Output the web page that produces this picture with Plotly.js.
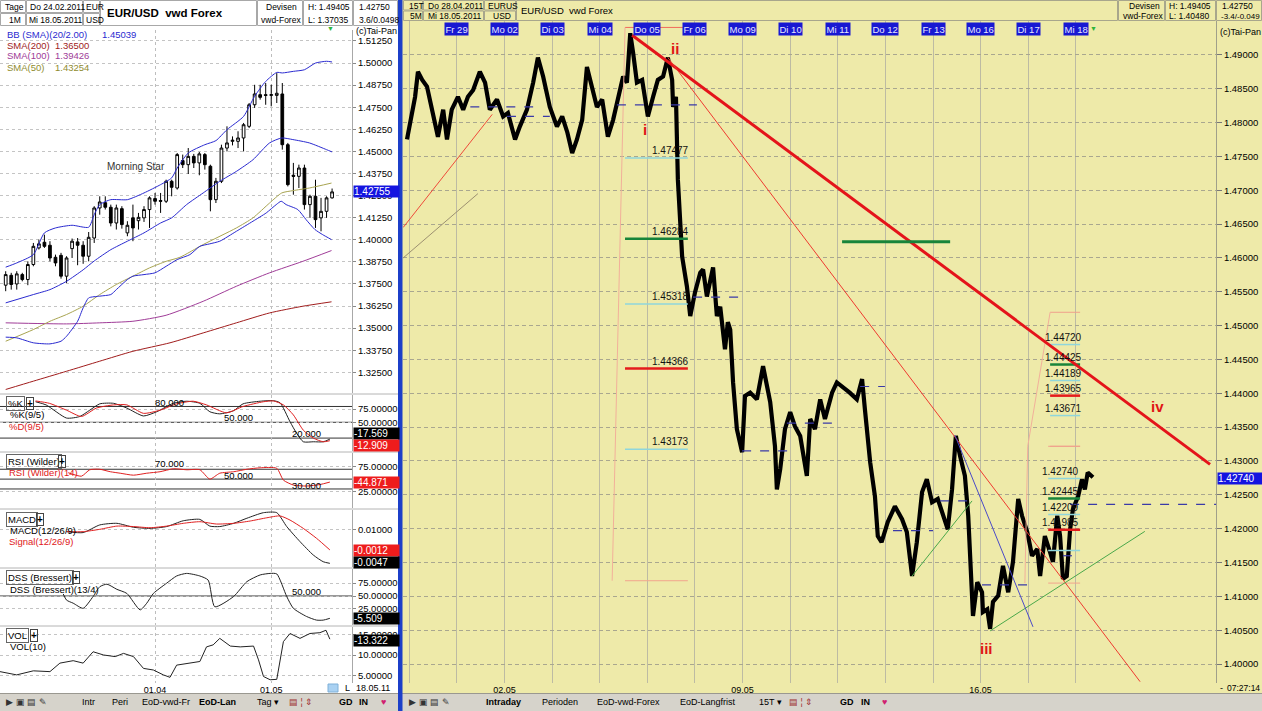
<!DOCTYPE html>
<html><head><meta charset="utf-8">
<script src="https://cdn.plot.ly/plotly-3.0.1.min.js"></script>
<style>html,body{margin:0;padding:0;background:#fff;overflow:hidden}#chart{width:1262px;height:711px}</style>
</head><body><div id="chart"></div>
<script>
// ---------------- DATA ----------------
// Daily candles 24.02.2011 - 18.05.2011 (index = trading day)
const dailyDates = ['24.02','25.02','28.02','01.03','02.03','03.03','04.03','07.03','08.03','09.03','10.03','11.03','14.03','15.03','16.03','17.03','18.03','21.03','22.03','23.03','24.03','25.03','28.03','29.03','30.03','31.03','01.04','04.04','05.04','06.04','07.04','08.04','11.04','12.04','13.04','14.04','15.04','18.04','19.04','20.04','21.04','22.04','25.04','26.04','27.04','28.04','29.04','02.05','03.05','04.05','05.05','06.05','09.05','10.05','11.05','12.05','13.05','16.05','17.05','18.05'];
const dOpen  = [1.3743,1.3799,1.3750,1.3803,1.3775,1.3860,1.3954,1.3986,1.3969,1.3901,1.3912,1.3794,1.3950,1.3988,1.3969,1.3907,1.4010,1.4180,1.4210,1.4184,1.4095,1.4176,1.4039,1.4124,1.4108,1.4124,1.4171,1.4233,1.4222,1.4218,1.4331,1.4293,1.4448,1.4425,1.4472,1.4435,1.4482,1.4416,1.4227,1.4331,1.4519,1.4557,1.4557,1.4576,1.4642,1.4764,1.4821,1.4821,1.4817,1.4817,1.4825,1.4538,1.4365,1.4359,1.4406,1.4199,1.4246,1.4124,1.4161,1.4237];
const dHigh  = [1.3822,1.3813,1.3822,1.3813,1.3878,1.3982,1.4001,1.4029,1.3992,1.3916,1.3926,1.3907,1.4007,1.4010,1.3992,1.4044,1.4190,1.4246,1.4246,1.4199,1.4199,1.4190,1.4105,1.4199,1.4152,1.4190,1.4246,1.4265,1.4265,1.4340,1.4340,1.4491,1.4482,1.4519,1.4486,1.4497,1.4491,1.4425,1.4350,1.4538,1.4642,1.4585,1.4614,1.4661,1.4774,1.4877,1.4877,1.4887,1.4877,1.4943,1.4887,1.4548,1.4435,1.4425,1.4425,1.4255,1.4340,1.4237,1.4246,1.4290];
const dLow   = [1.3709,1.3718,1.3718,1.3765,1.3743,1.3850,1.3945,1.3954,1.3878,1.3850,1.3780,1.3756,1.3897,1.3856,1.3864,1.3878,1.3982,1.4142,1.4171,1.4076,1.4058,1.4063,1.4020,1.3992,1.4058,1.4101,1.4067,1.4199,1.4152,1.4208,1.4246,1.4284,1.4406,1.4372,1.4406,1.4365,1.4397,1.4161,1.4208,1.4321,1.4500,1.4534,1.4519,1.4500,1.4632,1.4746,1.4793,1.4764,1.4755,1.4774,1.4510,1.4302,1.4255,1.4293,1.4171,1.4124,1.4067,1.4048,1.4124,1.4233];
const dClose = [1.3803,1.3747,1.3807,1.3775,1.3860,1.3963,1.3977,1.3963,1.3897,1.3869,1.3794,1.3897,1.3992,1.3969,1.3907,1.4014,1.4180,1.4214,1.4184,1.4095,1.4180,1.4086,1.4082,1.4067,1.4127,1.4171,1.4237,1.4218,1.4218,1.4331,1.4297,1.4482,1.4425,1.4472,1.4435,1.4486,1.4425,1.4227,1.4331,1.4519,1.4548,1.4563,1.4576,1.4651,1.4764,1.4825,1.4806,1.4817,1.4821,1.4829,1.4538,1.4312,1.4359,1.4406,1.4199,1.4246,1.4114,1.4161,1.4237,1.4271];
const monthTickDates = ['01.04','02.05'];
const monthTickLabels = ['01.04','01.05'];

// Overlays (x = trading-day index)
const bbUpIdx = [0,2,5,7,9,12,15,16,17,19,22,25,28,30,31,33,36,38,40,43,45,47,49,50,52,54,56,58,59];
const bbUpVal = [1.3845,1.3869,1.3916,1.4039,1.4067,1.4082,1.4071,1.4142,1.4199,1.4227,1.4227,1.4265,1.4312,1.4350,1.4406,1.4491,1.4538,1.4561,1.4623,1.4698,1.4812,1.4896,1.4947,1.4944,1.4953,1.4962,1.5000,1.5010,1.5006];
const bbMidIdx = [0,5,8,11,14,16,19,22,25,28,30,32.7,35.7,38.7,41.7,44.7,47.7,49.9,51.9,54.9,58,59];
const bbMidVal = [1.3643,1.3690,1.3718,1.3765,1.3830,1.3880,1.3944,1.3992,1.4039,1.4095,1.4124,1.4199,1.4265,1.4331,1.4387,1.4453,1.4548,1.4576,1.4567,1.4548,1.4510,1.4497];
const bbLowIdx = [0,2,5,8,10,11,13,14,15,17,19,20,22,23,25,27,29,31,33.3,35.1,36.9,38.7,41.7,44.7,47.1,48.9,49.8,50.7,52.8,54.3,55.9,57.3,58.9];
const bbLowVal = [1.3449,1.3445,1.3417,1.3411,1.3426,1.3454,1.3539,1.3615,1.3671,1.3681,1.3690,1.3718,1.3775,1.3794,1.3803,1.3813,1.3850,1.3888,1.3916,1.3963,1.3977,1.3992,1.4048,1.4105,1.4152,1.4199,1.4218,1.4199,1.4171,1.4114,1.4058,1.4029,1.4001];
const sma50Idx = [0,5,8,11,14,17,20,23,26,29,31.5,35.7,41.7,44.7,47.7,49.9,51.9,54.9,58.9];
const sma50Val = [1.3426,1.3492,1.3539,1.3577,1.3624,1.3690,1.3747,1.3794,1.3841,1.3878,1.3901,1.3973,1.4067,1.4124,1.4208,1.4265,1.4278,1.4293,1.4321];
const sma100Idx = [0,11,17,23,29,35.7,41.7,47.7,53.7,58.9];
const sma100Val = [1.3530,1.3524,1.3530,1.3539,1.3573,1.3652,1.3737,1.3813,1.3878,1.3939];
const sma200Idx = [0,5,11,17,23,29.7,35.7,41.7,47.7,53.7,58.9];
const sma200Val = [1.3153,1.3200,1.3256,1.3313,1.3369,1.3417,1.3473,1.3530,1.3586,1.3624,1.3649];

// Indicators
const stochKIdx = [5.4,7.3,11,13.4,15.2,17,19.5,21.9,24.9,27.3,30.3,32.7,35.1,36.9,38.7,41.2,42.9,46,48.4,49.6,51.4,52.6,53.8,55.6,57.4,58.6];
const stochKVal = [89,83,58,61,73,85,86,77,62,70,86,90,86,70,66,72,85,90,91,87,51,29,13,13,13,18];
const stochDIdx = [5.4,7.9,11,13.7,16.4,19.5,21.9,24.9,27.9,30.9,33.9,36.3,39.9,42.9,46.6,48.4,50.2,52,53.8,55.6,57.4,58.6];
const stochDVal = [90.5,86,73,61,77,83,83,67,73,85,90,83,68,80,89,90.5,83,64,35,20,13,15];
const stochLevels = [80,50,20];
const rsiIdx = [11.3,13.7,15.2,17,18.9,20.7,23.1,25.5,27.9,30.3,32.7,35.1,36.9,38.7,41.2,43.6,46,49,50.2,52,54.4,56.8,58.6];
const rsiVal = [63,56,69,70,65,62,58,62,65,71,69,69,50,62,65,70,73,72,48,38,36,39,44];
const rsiLevels = [70,50,30];
const macdIdx = [11,14,17,20.1,23.1,26.1,29.1,32.1,35.1,36.9,38.7,41.2,43.6,46.6,49,50.8,53.2,55.6,57.4,58.6];
const macdVal = [0.0090,0.0086,0.0119,0.0126,0.0109,0.0104,0.0112,0.0137,0.0143,0.0114,0.0112,0.0126,0.0148,0.0172,0.0172,0.0112,0.0047,-0.0011,-0.0040,-0.0047];
const signalIdx = [11,14,17,20.1,23.1,26.1,29.1,32.1,35.1,38.1,41.2,44.2,47.2,49.6,51.4,53.8,56.2,58.6];
const signalVal = [0.0090,0.0090,0.0100,0.0114,0.0112,0.0107,0.0114,0.0126,0.0133,0.0123,0.0126,0.0136,0.0150,0.0158,0.0140,0.0104,0.0061,0.0011];
const dssIdx = [10.4,11,12.2,14,15.8,17,18.3,20.1,21.9,24.3,25.5,26.7,29.1,30.9,32.7,35.1,36.6,37.8,41.2,43.6,46,47.8,49,50.8,52,54.4,56.2,57.4,58.6];
const dssVal = [54,42,36,26,49,68,73,63,55,23,36,55,75,89,94,89,81,29,49,78,91,94,93,49,26,10,3,3,6.5];
const dssLevels = [50];
const volIdx = [-1.03,1.98,4.99,8.0,9.8,12.2,14,15.8,17.7,19.8,21.3,23.1,24.9,26.7,28.5,29.7,30.9,33.3,35.1,36.3,37.5,38.7,40.6,42.4,44.8,45.7,46.6,47.8,49,50.2,51.4,53.2,55,56.8,57.9,58.6];
const volVal = [5.9,5.1,6.1,5.9,8.0,8.6,8.0,10.8,10,9.6,10.4,9.6,6.7,6.3,5.1,4.5,7.5,8.0,8.4,12.0,12.5,14.1,12.2,12.0,12.2,8.8,4.7,3.9,4.0,13.3,15.3,14.1,15.3,15.5,16.1,13.9];

// Intraday 15T (x = trading day since 28.04, 0 = start of Do 28)
const dayNames = ['Do 28','Fr 29','Mo 02','Di 03','Mi 04','Do 05','Fr 06','Mo 09','Di 10','Mi 11','Do 12','Fr 13','Mo 16','Di 17','Mi 18'];
const dayDates = ['28.04','29.04','02.05','03.05','04.05','05.05','06.05','09.05','10.05','11.05','12.05','13.05','16.05','17.05','18.05'];
const intraDay = [-0.05,0.12,0.18,0.27,0.37,0.50,0.60,0.71,0.79,0.89,1.02,1.13,1.23,1.34,1.48,1.59,1.69,1.84,1.97,2.07,2.22,2.32,2.47,2.60,2.70,2.81,2.95,3.10,3.21,3.32,3.42,3.52,3.63,3.73,3.84,3.94,4.05,4.17,4.28,4.38,4.49,4.57,4.64,4.70,4.78,4.89,4.99,5.01,5.12,5.22,5.33,5.43,5.52,5.54,5.60,5.62,5.64,5.73,5.83,5.90,6.00,6.11,6.17,6.25,6.38,6.46,6.53,6.63,6.69,6.74,6.80,6.88,6.99,7.05,7.16,7.30,7.43,7.58,7.68,7.72,7.79,7.89,8.00,8.10,8.21,8.35,8.42,8.52,8.63,8.73,8.88,8.98,9.10,9.25,9.40,9.51,9.57,9.68,9.78,9.84,9.92,10.05,10.20,10.35,10.45,10.56,10.66,10.77,10.87,10.98,11.10,11.21,11.31,11.40,11.48,11.57,11.67,11.74,11.82,11.84,11.93,12.03,12.05,12.14,12.20,12.26,12.37,12.47,12.58,12.68,12.76,12.79,12.87,12.98,13.08,13.19,13.25,13.35,13.46,13.52,13.61,13.67,13.73,13.81,13.88,13.94,14.05,14.13,14.19,14.25,14.36];
const intraPrice = [1.4775,1.4838,1.4875,1.4863,1.4853,1.4814,1.4779,1.4819,1.4775,1.4819,1.4838,1.4819,1.4838,1.4848,1.4875,1.4859,1.4819,1.4834,1.4809,1.4814,1.4775,1.4794,1.4819,1.4859,1.4896,1.4868,1.4823,1.4794,1.4809,1.4785,1.4755,1.4775,1.4804,1.4882,1.4848,1.4823,1.4834,1.4779,1.4804,1.4834,1.4868,1.4859,1.4932,1.4903,1.4859,1.4863,1.4823,1.4809,1.4838,1.4863,1.4868,1.4896,1.4863,1.4823,1.4838,1.4789,1.4716,1.4602,1.4558,1.4514,1.4549,1.4578,1.4583,1.4543,1.4586,1.4514,1.4528,1.4465,1.4505,1.4494,1.4416,1.4347,1.4313,1.4396,1.4401,1.4391,1.4440,1.4387,1.4322,1.4258,1.4288,1.4347,1.4372,1.4351,1.4337,1.4278,1.4362,1.4347,1.4391,1.4362,1.4401,1.4416,1.4410,1.4401,1.4391,1.4421,1.4376,1.4298,1.4248,1.4189,1.4180,1.4210,1.4233,1.4214,1.4195,1.4130,1.4180,1.4254,1.4273,1.4239,1.4244,1.4219,1.4199,1.4258,1.4337,1.4307,1.4278,1.4219,1.4121,1.4071,1.4121,1.4106,1.4077,1.4081,1.4052,1.4092,1.4101,1.4145,1.4106,1.4151,1.4219,1.4244,1.4219,1.4195,1.4160,1.4170,1.4130,1.4189,1.4165,1.4151,1.4219,1.4189,1.4126,1.4130,1.4199,1.4229,1.4248,1.4273,1.4258,1.4283,1.4276];

// Fibonacci sets (high, low, levels, day span, label day)
const fibHigh = [1.49405,1.45197,1.43217];
const fibLow  = [1.41231,1.43217,1.41196];
const fibLevels = [[1.47477,1.46284,1.45318,1.44366,1.43173],[1.44720,1.44425,1.44189,1.43965,1.43671],[1.42740,1.42445,1.42209,1.41985,1.41676]];
const fibShowLabel = [[1,1,1,1,1],[1,1,1,1,1],[1,1,1,1,0]];
const fibDayStart = [4.53,13.46,13.42];
const fibDayEnd   = [5.85,14.09,14.09];
const fibDiagHighDay = [4.53,13.46,12.99];
const fibDiagLowDay  = [4.26,12.99,12.93];
const fibLabelDay = [5.05,13.31,13.25];

// Trend lines (day, price)
const trendX0 = [4.68,5.43,-0.13,-0.13,10.56,12.20,11.46,9.09];
const trendY0 = [1.4929,1.4896,1.4645,1.4600,1.4130,1.4049,1.4338,1.4624];
const trendX1 = [16.82,15.35,1.74,1.44,11.82,15.45,13.10,11.36];
const trendY1 = [1.4295,1.3974,1.4812,1.4695,1.4241,1.4196,1.4055,1.4624];
// Dashed pivot marks
const pivotStart = [1.28,2.05,4.36,5.96,6.99,7.93,9.47,10.16,11.15,12.03,13.73,13.88];
const pivotEnd   = [2.60,2.95,6.04,6.95,7.95,8.98,9.99,11.00,11.84,13.00,14.03,16.95];
const pivotPrice = [1.4823,1.4809,1.4826,1.4542,1.4315,1.4356,1.4410,1.4197,1.4241,1.4117,1.4160,1.4236];
// Wave labels
const waveText = ['i','ii','iii','iv'];
const waveDay = [4.95,5.58,12.12,15.71];
const wavePrice = [1.4789,1.4910,1.4023,1.4381];

// ---------------- STYLE / LAYOUT ----------------
const W = 1262, H = 711;
const F = '"Liberation Sans", Arial, sans-serif';
const X = p => p / W, Y = p => 1 - p / H;
const YEL = '#eeeaa9';

const tr = [];
const cdIdx = dailyDates.map((d, i) => i);
tr.push({type:'candlestick', x:cdIdx, open:dOpen, high:dHigh, low:dLow, close:dClose, xaxis:'x', yaxis:'y',
  increasing:{line:{color:'#000', width:1}, fillcolor:'#ffffff'},
  decreasing:{line:{color:'#000', width:1}, fillcolor:'#000000'}, whiskerwidth:0, hoverinfo:'skip'});
function ln(x, y, yax, color, w, xa, shape) {
  tr.push({type:'scatter', mode:'lines', x, y, xaxis:xa || 'x', yaxis:yax, line:{color, width:w, shape:shape || 'spline', smoothing:0.6}, hoverinfo:'skip'});
}
ln(sma200Idx, sma200Val, 'y', '#a01c1c', 1);
ln(sma100Idx, sma100Val, 'y', '#a03c98', 1);
ln(sma50Idx, sma50Val, 'y', '#a8a450', 1);
ln(bbLowIdx, bbLowVal, 'y', '#2a2ad0', 1);
ln(bbMidIdx, bbMidVal, 'y', '#2a2ad0', 1);
ln(bbUpIdx, bbUpVal, 'y', '#2a2ad0', 1);
ln(stochKIdx, stochKVal, 'y2', '#222', 1);
ln(stochDIdx, stochDVal, 'y2', '#e02020', 1);
ln(rsiIdx, rsiVal, 'y3', '#e02020', 1);
ln(macdIdx, macdVal, 'y4', '#222', 1);
ln(signalIdx, signalVal, 'y4', '#e02020', 1);
ln(dssIdx, dssVal, 'y5', '#222', 1);
ln(volIdx, volVal, 'y6', '#222', 1, 'x', 'linear');
tr.push({type:'scatter', mode:'lines', x:intraDay, y:intraPrice, xaxis:'x2', yaxis:'y7', line:{color:'#000', width:4.2, shape:'linear'}, hoverinfo:'skip'});

// axes
const leftTicks = [];
for (let v = 1.325; v < 1.515; v += 0.0125) leftTicks.push(+v.toFixed(5));
const rightTicks = [];
for (let v = 1.400; v < 1.4925; v += 0.005) rightTicks.push(+v.toFixed(3));
const monthTickVals = monthTickDates.map(d => dailyDates.indexOf(d) + 1);
const tf = {family:F, size:9.5, color:'#000'};
function indAxis(top, bot, range, vals, dec) {
  return {domain:[Y(bot), Y(top)], range, anchor:'x', side:'right', tickvals:vals,
    ticktext:vals.map(v => v.toFixed(dec)), showgrid:true, gridcolor:'#c4c4c4', griddash:'dot',
    ticks:'outside', ticklen:3, tickcolor:'#888', showline:true, linecolor:'#a8a8a8', zeroline:false, tickfont:tf, fixedrange:true};
}
const layout = {
  width:W, height:H, margin:{l:0, r:0, t:0, b:0}, paper_bgcolor:'#ffffff', plot_bgcolor:'rgba(0,0,0,0)',
  showlegend:false, font:{family:F, size:9.5, color:'#000'},
  xaxis:{domain:[0, X(352)], range:[-1.03, 62.6], anchor:'y6', tickvals:monthTickVals, ticktext:monthTickLabels,
    showgrid:true, gridcolor:'#bdbdbd', griddash:'dot', zeroline:false, ticks:'', tickfont:{family:F, size:9, color:'#000'},
    rangeslider:{visible:false}, showline:false, fixedrange:true},
  yaxis:{domain:[Y(393), Y(30)], range:[1.3133, 1.5187], anchor:'x', side:'right', tickvals:leftTicks,
    ticktext:leftTicks.map(v => v.toFixed(5)), showgrid:true, gridcolor:'#c4c4c4', griddash:'dot',
    ticks:'outside', ticklen:3, tickcolor:'#888', showline:true, linecolor:'#a8a8a8', zeroline:false, tickfont:tf, fixedrange:true},
  yaxis2:indAxis(395, 451, [-4.5, 101.8], [75, 50], 5),
  yaxis3:indAxis(453, 508, [-8.6, 103], [75, 25], 5),
  yaxis4:indAxis(510, 567, [-0.00628, 0.01836], [0.01], 5),
  yaxis5:indAxis(569, 625, [-6.5, 102.6], [75, 50, 25], 5),
  yaxis6:indAxis(627, 683, [3.1, 16.9], [15, 10, 5], 5),
  xaxis2:{domain:[X(403), X(1216)], range:[-0.134, 16.945], anchor:'y7', tickvals:dayNames.map((d, i) => i),
    ticktext:dayDates.map((d, i) => dayNames[i].startsWith('Mo') ? d : ''), showgrid:true, gridcolor:'#bdbba3',
    zeroline:false, ticks:'', tickfont:{family:F, size:9, color:'#000'}, showline:false, fixedrange:true},
  yaxis7:{domain:[Y(683), Y(21)], range:[1.3972, 1.4950], anchor:'x2', side:'right', tickvals:rightTicks,
    ticktext:rightTicks.map(v => v.toFixed(5)), showgrid:true, gridcolor:'#a9a78f', griddash:'4px,3px',
    ticks:'outside', ticklen:5, tickcolor:'#777', showline:true, linecolor:'#a0a08a', zeroline:false, tickfont:tf, fixedrange:true}
};

// shapes
const shapes = [];
function R(x0, y0, x1, y1, fill, lc, layer) {
  shapes.push({type:'rect', xref:'paper', yref:'paper', x0:X(x0), x1:X(x1), y0:Y(y1), y1:Y(y0),
    fillcolor:fill || 'rgba(0,0,0,0)', line:{color:lc || 'rgba(0,0,0,0)', width:lc ? 1 : 0}, layer:layer || 'above'});
}
function L(x0, y0, x1, y1, color, w, layer) {
  shapes.push({type:'line', xref:'paper', yref:'paper', x0:X(x0), x1:X(x1), y0:Y(y0), y1:Y(y1), line:{color, width:w || 1}, layer:layer || 'above'});
}
R(402, 0, 1262, 693, YEL, null, 'below');
R(0, 693, 1262, 711, '#d6d3cb', null, 'below');
L(0, 693.5, 1262, 693.5, '#9a9890');
// header cells
[[0,0,26,13],[0,13,26,26],[26,0,83,13],[26,13,83,26],[83,0,100,13],[83,13,100,26],[100,0,257,26],[257,0,303,26],[303,0,353,26],[353,0,398,26]]
  .forEach(c => R(c[0] + 0.5, c[1] + 0.5, c[2] - 0.5, c[3] - 0.5, null, '#a8a8a8'));
[[403,0,423,10.5],[403,10.5,423,21],[423,0,484,10.5],[423,10.5,484,21],[484,0,516,10.5],[484,10.5,516,21],[516,0,1118,21],[1118,0,1165,21],[1165,0,1216,21],[1216,0,1262,21]]
  .forEach(c => R(c[0] + 0.5, c[1] + 0.5, c[2] - 0.5, c[3] - 0.5, null, '#a8a68c'));
// left panel separators
[394, 452, 509, 568, 626].forEach(y => L(0, y, 398, y, '#b4b4b4'));
// indicator level lines
function lvl(vals, yax) { vals.forEach(v => shapes.push({type:'line', xref:'paper', yref:yax, x0:0, x1:X(352), y0:v, y1:v, line:{color:'#333', width:1}, layer:'below'})); }
lvl(stochLevels, 'y2'); lvl(rsiLevels, 'y3'); lvl(dssLevels, 'y5');
// light blue square bottom-left
R(328, 684, 338, 692, '#a9d1f2', '#7fb0d8');
// divider
R(398, 0, 402.5, 711, '#1c3fc9', null);
// right chart: fib sets
const fibColor = ['#8fd6dc', '#17843a', '#8fd6dc', '#e41c1c', '#8fd6dc'];
const fibWidth = [1.5, 2.5, 1.5, 2.5, 1.5];
function dl(x0, y0, x1, y1, color, w, dash) {
  shapes.push({type:'line', xref:'x2', yref:'y7', x0, y0, x1, y1, line:{color, width:w, dash:dash || 'solid'}});
}
fibLevels.forEach((set, s) => {
  dl(fibDayStart[s], fibHigh[s], fibDayEnd[s], fibHigh[s], s === 0 ? '#f06a5a' : '#f0a08c', 1);
  dl(fibDayStart[s], fibLow[s], fibDayEnd[s], fibLow[s], '#f2a48e', 1);
  dl(fibDiagHighDay[s], fibHigh[s], fibDiagLowDay[s], fibLow[s], '#f2b09a', 1);
  set.forEach((v, k) => dl(fibDayStart[s], v, fibDayEnd[s], v, fibColor[k], fibWidth[k]));
});
// pivots
pivotPrice.forEach((p, i) => dl(pivotStart[i], p, pivotEnd[i], p, '#3a3aa8', 1.2, 'dash'));
// trend lines
const trendColor = ['#e4141a', '#ee3a30', '#ee4a3a', '#9c9070', '#4aa84a', '#4aa84a', '#4a4ac8', '#17843a'];
const trendWidth = [3, 1, 1, 1, 1, 1, 1, 3];
trendX0.forEach((x, i) => dl(x, trendY0[i], trendX1[i], trendY1[i], trendColor[i], trendWidth[i]));
layout.shapes = shapes;

// annotations
const ann = [];
function T(x, y, text, o) {
  ann.push(Object.assign({xref:'paper', yref:'paper', x:X(x), y:Y(y), text, showarrow:false, xanchor:'left', yanchor:'middle',
    font:{family:F, size:9.5, color:'#000'}}, o || {}));
}
const fc = (c, s, fam) => ({family:fam || F, size:s || 9.5, color:c});
const hf = fc('#000', 8.5);
// left header
T(3, 7, 'Tage', {font:hf}); T(28, 7, 'Do 24.02.2011', {font:hf}); T(84, 7, 'EUR', {font:hf});
T(7, 20, '1M', {font:hf}); T(27, 20, 'Mi 18.05.2011', {font:hf}); T(84, 20, 'USD', {font:hf});
T(105, 13, '<b>EUR/USD\u00a0\u00a0vwd Forex</b>', {font:fc('#000', 11.5)});
T(264, 7, 'Devisen', {font:hf}); T(259, 20, 'vwd-Forex', {font:hf}); T(306, 7, 'H: 1.49405', {font:hf}); T(306, 20, 'L: 1.37035', {font:hf});
T(357, 7, '1.42750', {font:hf}); T(357, 20, '3.6/0.0498', {font:hf});
T(354, 31, '(c)Tai-Pan', {font:fc('#000', 9)});
// right header
T(407, 6, '15T', {font:hf}); T(426, 6, 'Do 28.04.2011', {font:hf}); T(486, 6, 'EURUS', {font:hf});
T(408, 16, '5M', {font:hf}); T(426, 16, 'Mi 18.05.2011', {font:hf}); T(491, 16, 'USD', {font:hf});
T(519, 10, 'EUR/USD\u00a0\u00a0vwd Forex', {font:fc('#000', 9.5)});
T(1127, 6, 'Devisen', {font:hf}); T(1121, 16, 'vwd-Forex', {font:hf});
T(1167, 6, 'H: 1.49405', {font:hf}); T(1167, 16, 'L: 1.40480', {font:hf});
T(1220, 6, '1.42750', {font:hf}); T(1219, 16, '-3.4/-0.049', {font:fc('#000', 8)});
T(1218, 32, '(c)Tai-Pan', {font:fc('#000', 9)});
// green markers
T(330, 28, '▼', {font:fc('#2fb33a', 7), xanchor:'center'});
T(1093, 28, '▼', {font:fc('#2fb33a', 7), xanchor:'center'});
// legend of overlays
T(5, 34, 'BB (SMA)(20/2.00)', {font:fc('#2a2ad0')}); T(100, 34, '1.45039', {font:fc('#2a2ad0')});
T(5, 45, 'SMA(200)', {font:fc('#a01c1c')}); T(53, 45, '1.36500', {font:fc('#a01c1c')});
T(5, 56, 'SMA(100)', {font:fc('#a03c98')}); T(53, 56, '1.39426', {font:fc('#a03c98')});
T(5, 68, 'SMA(50)', {font:fc('#8f8c30')}); T(53, 68, '1.43254', {font:fc('#8f8c30')});
T(105, 167, 'Morning Star', {font:fc('#333', 10)});
// indicator titles
const box = {bordercolor:'#666', borderwidth:1, borderpad:1};
function title(x, y, t, plusX) {
  T(x, y, t, box);
  T(plusX, y, '<b>+</b>', {bordercolor:'#444', borderwidth:1, borderpad:0, font:fc('#000', 10), xanchor:'center'});
}
title(6, 403, '%K', 30); T(8, 414, '%K(9/5)'); T(7, 426, '%D(9/5)', {font:fc('#e02020')});
title(6, 461, 'RSI (Wilder)', 62); T(7, 472, 'RSI (Wilder)(14)', {font:fc('#e02020')});
title(6, 519, 'MACD', 40); T(8, 530, 'MACD(12/26/9)'); T(7, 541, 'Signal(12/26/9)', {font:fc('#e02020')});
title(6, 577, 'DSS (Bressert)', 76); T(8, 589, 'DSS (Bressert)(13/4)');
title(6, 635, 'VOL', 34); T(8, 646, 'VOL(10)');
// level labels
T(153, 402, '80.000'); T(222, 417, '50.000'); T(290, 433, '20.000');
T(153, 464, '70.000'); T(222, 475, '50.000'); T(290, 485, '30.000');
T(290, 591, '50.000');
// indicator value boxes
function V(y, t, bg) { T(352.5, y, t, {bgcolor:bg, font:fc('#fff', 10), width:45, align:'left', borderpad:0}); }
V(433, '-17.569', '#000'); V(445, '-12.909', '#ee1c1c');
V(482, '-44.871', '#ee1c1c');
V(550, '-0.0012', '#ee1c1c'); V(562, '-0.0047', '#000');
V(618, '-5.509', '#000'); V(640, '-13.322', '#000');
// current price boxes
ann.push({xref:'paper', yref:'y', x:X(352.5), y:dClose[dClose.length - 1] + 0.00045, text:'1.42755', showarrow:false, xanchor:'left', yanchor:'middle',
  bgcolor:'#1414e0', font:fc('#fff', 10), width:45, align:'left', borderpad:0});
ann.push({xref:'paper', yref:'y7', x:X(1216.5), y:intraPrice[intraPrice.length - 1] - 0.0002, text:'1.42740', showarrow:false, xanchor:'left', yanchor:'middle',
  bgcolor:'#1414e0', font:fc('#fff', 10), width:45, align:'left', borderpad:0});
// bottom rows
T(343, 688, 'L', {font:fc('#000', 9)}); T(354, 688, '18.05.11', {font:fc('#000', 9)});
T(1218, 688, '-', {font:fc('#000', 9)}); T(1225, 688, '07:27:14', {font:fc('#000', 8.5)});
// toolbars
const tb = fc('#000', 9);
T(4, 702, '▶ ▣ ▤ ✎', {font:fc('#333', 9)});
T(80, 702, 'Intr', {font:tb}); T(110, 702, 'Peri', {font:tb}); T(140, 702, 'EoD-vwd-Fr', {font:tb});
T(197, 702, '<b>EoD-Lan</b>', {font:tb}); T(255, 702, 'Tag ▾', {font:tb});
T(287, 702, '▤ ¦ ⇕', {font:fc('#a03030', 9)});
T(337, 702, '<b>GD</b>', {font:tb}); T(357, 702, '<b>IN</b>', {font:tb}); T(379, 702, '♥', {font:fc('#d02070', 9)});
T(407, 702, '▶ ▣ ▤ ✎', {font:fc('#333', 9)});
T(484, 702, '<b>Intraday</b>', {font:tb}); T(540, 702, 'Perioden', {font:tb});
T(595, 702, 'EoD-vwd-Forex', {font:tb}); T(678, 702, 'EoD-Langfrist', {font:tb}); T(757, 702, '15T ▾', {font:tb});
T(787, 702, '▤ ¦ ⇕', {font:fc('#a03030', 9)});
T(838, 702, '<b>GD</b>', {font:tb}); T(859, 702, '<b>IN</b>', {font:tb}); T(880, 702, '♥', {font:fc('#d02070', 9)});
// day label boxes on the right chart
dayNames.forEach((d, i) => {
  if (i === 0) return;
  ann.push({xref:'x2', yref:'paper', x:i, y:Y(29), text:d, showarrow:false, xanchor:'center', yanchor:'middle',
    bgcolor:'#1818d2', font:fc('#e6e6ff', 9.5), borderpad:0.5});
});
// fib labels
fibLevels.forEach((set, s) => set.forEach((v, k) => {
  if (!fibShowLabel[s][k]) return;
  ann.push({xref:'x2', yref:'y7', x:fibLabelDay[s], y:v, text:v.toFixed(5), showarrow:false, xanchor:'left', yanchor:'bottom',
    font:fc('#111', 10)});
}));
// wave labels
waveText.forEach((t, i) => ann.push({xref:'x2', yref:'y7', x:waveDay[i], y:wavePrice[i], text:'<b>' + t + '</b>', showarrow:false,
  xanchor:'center', yanchor:'middle', font:fc('#e01414', 15)}));
layout.annotations = ann;

Plotly.newPlot('chart', tr, layout, {displayModeBar:false, staticPlot:true});
</script></body></html>
